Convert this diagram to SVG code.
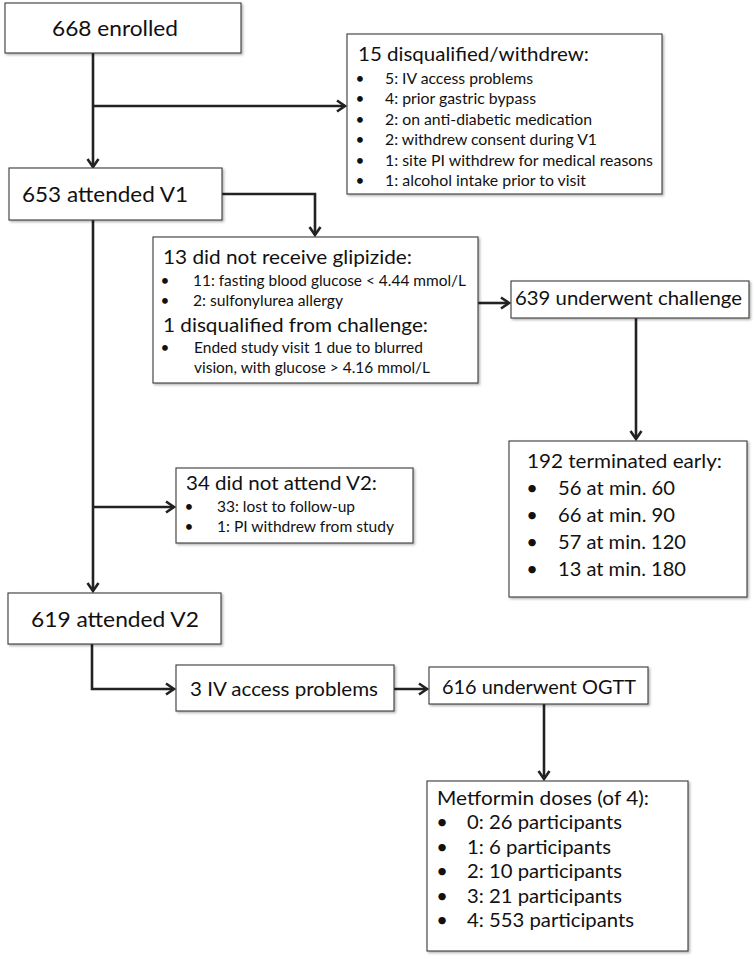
<svg xmlns="http://www.w3.org/2000/svg" width="756" height="959" viewBox="0 0 756 959">
<style>
  .box { fill: #ffffff; stroke: #3a3a3a; stroke-width: 1.1; filter: url(#sh); }
  .t { font-family: Lato, "Liberation Sans", sans-serif; fill: #111; }
  .big { font-size: 22px; }
  .ttl { font-size: 20px; }
  .sm { font-size: 15.3px; }
  .md { font-size: 20px; }
  .b { text-anchor: middle; }
  .c { fill: none; stroke: #222; stroke-width: 2.6; marker-end: url(#ah); }
</style>
<defs>
  <filter id="sh" x="-5%" y="-5%" width="110%" height="115%">
    <feDropShadow dx="1.5" dy="1.5" stdDeviation="1" flood-color="#000" flood-opacity="0.3"/>
  </filter>
  <marker id="ah" markerUnits="userSpaceOnUse" markerWidth="14" markerHeight="14" refX="10" refY="7" orient="auto">
    <path d="M2,1.5 L10,7 L2,12.5" fill="none" stroke="#222" stroke-width="2.6"/>
  </marker>
</defs>
<rect width="756" height="959" fill="#fff"/>

<g id="connectors">
  <line class="c" x1="93" y1="53" x2="93" y2="167"/>
  <line class="c" x1="93" y1="106" x2="345" y2="106"/>
  <polyline class="c" points="222,194 315,194 315,235"/>
  <line class="c" x1="93" y1="220" x2="93" y2="591"/>
  <line class="c" x1="93" y1="507" x2="174" y2="507"/>
  <line class="c" x1="478" y1="303" x2="509" y2="303"/>
  <line class="c" x1="636" y1="318" x2="636" y2="439"/>
  <polyline class="c" points="92,644 92,689 174,689"/>
  <line class="c" x1="394" y1="689" x2="427" y2="689"/>
  <line class="c" x1="544" y1="704" x2="544" y2="779"/>
</g>

<g id="n668">
  <rect class="box" x="5" y="3" width="236" height="50"/>
  <text class="t big" x="52" y="36" textLength="126" lengthAdjust="spacingAndGlyphs">668 enrolled</text>
</g>

<g id="n15">
  <rect class="box" x="347" y="34" width="315" height="160"/>
  <text class="t ttl" x="358" y="61" textLength="231" lengthAdjust="spacingAndGlyphs">15 disqualified/withdrew:</text>
  <text class="t sm b" x="360" y="84">•</text>
  <text class="t sm" x="385" y="84" textLength="148" lengthAdjust="spacingAndGlyphs">5: IV access problems</text>
  <text class="t sm b" x="360" y="104.4">•</text>
  <text class="t sm" x="385" y="104.4" textLength="151" lengthAdjust="spacingAndGlyphs">4: prior gastric bypass</text>
  <text class="t sm b" x="360" y="124.8">•</text>
  <text class="t sm" x="385" y="124.8" textLength="207" lengthAdjust="spacingAndGlyphs">2: on anti-diabetic medication</text>
  <text class="t sm b" x="360" y="145.2">•</text>
  <text class="t sm" x="385" y="145.2" textLength="212" lengthAdjust="spacingAndGlyphs">2: withdrew consent during V1</text>
  <text class="t sm b" x="360" y="165.6">•</text>
  <text class="t sm" x="385" y="165.6" textLength="268" lengthAdjust="spacingAndGlyphs">1: site PI withdrew for medical reasons</text>
  <text class="t sm b" x="360" y="186">•</text>
  <text class="t sm" x="385" y="186" textLength="201" lengthAdjust="spacingAndGlyphs">1: alcohol intake prior to visit</text>
</g>

<g id="n653">
  <rect class="box" x="9" y="168" width="213" height="52"/>
  <text class="t big" x="22" y="202" textLength="166" lengthAdjust="spacingAndGlyphs">653 attended V1</text>
</g>

<g id="n13">
  <rect class="box" x="153" y="237" width="325" height="146"/>
  <text class="t ttl" x="163" y="264" textLength="249" lengthAdjust="spacingAndGlyphs">13 did not receive glipizide:</text>
  <text class="t sm b" x="165" y="286">•</text>
  <text class="t sm" x="193" y="286" textLength="273" lengthAdjust="spacingAndGlyphs">11: fasting blood glucose &lt; 4.44 mmol/L</text>
  <text class="t sm b" x="165" y="306">•</text>
  <text class="t sm" x="193" y="306" textLength="150" lengthAdjust="spacingAndGlyphs">2: sulfonylurea allergy</text>
  <text class="t ttl" x="163" y="332" textLength="265" lengthAdjust="spacingAndGlyphs">1 disqualified from challenge:</text>
  <text class="t sm b" x="165" y="353">•</text>
  <text class="t sm" x="194" y="353" textLength="229" lengthAdjust="spacingAndGlyphs">Ended study visit 1 due to blurred</text>
  <text class="t sm" x="194" y="373" textLength="236" lengthAdjust="spacingAndGlyphs">vision, with glucose &gt; 4.16 mmol/L</text>
</g>

<g id="n639">
  <rect class="box" x="511" y="281" width="238" height="37"/>
  <text class="t ttl" x="515" y="305" textLength="227" lengthAdjust="spacingAndGlyphs">639 underwent challenge</text>
</g>

<g id="n192">
  <rect class="box" x="509" y="441" width="238" height="156"/>
  <text class="t ttl" x="527" y="468" textLength="195" lengthAdjust="spacingAndGlyphs">192 terminated early:</text>
  <text class="t md b" x="532" y="495">•</text>
  <text class="t md" x="558" y="495" textLength="117" lengthAdjust="spacingAndGlyphs">56 at min. 60</text>
  <text class="t md b" x="532" y="522">•</text>
  <text class="t md" x="558" y="522" textLength="117" lengthAdjust="spacingAndGlyphs">66 at min. 90</text>
  <text class="t md b" x="532" y="549">•</text>
  <text class="t md" x="558" y="549" textLength="128" lengthAdjust="spacingAndGlyphs">57 at min. 120</text>
  <text class="t md b" x="532" y="576">•</text>
  <text class="t md" x="558" y="576" textLength="128" lengthAdjust="spacingAndGlyphs">13 at min. 180</text>
</g>

<g id="n34">
  <rect class="box" x="176" y="468" width="237" height="75"/>
  <text class="t ttl" x="186" y="490" textLength="191" lengthAdjust="spacingAndGlyphs">34 did not attend V2:</text>
  <text class="t sm b" x="189" y="512">•</text>
  <text class="t sm" x="217" y="512" textLength="138" lengthAdjust="spacingAndGlyphs">33: lost to follow-up</text>
  <text class="t sm b" x="189" y="532">•</text>
  <text class="t sm" x="217" y="532" textLength="177" lengthAdjust="spacingAndGlyphs">1: PI withdrew from study</text>
</g>

<g id="n619">
  <rect class="box" x="8" y="593" width="213" height="51"/>
  <text class="t big" x="31" y="627" textLength="168" lengthAdjust="spacingAndGlyphs">619 attended V2</text>
</g>

<g id="n3">
  <rect class="box" x="176" y="665" width="218" height="46"/>
  <text class="t ttl" x="190" y="696" textLength="188" lengthAdjust="spacingAndGlyphs">3 IV access problems</text>
</g>

<g id="n616">
  <rect class="box" x="429" y="667" width="219" height="37"/>
  <text class="t ttl" x="442" y="694" textLength="194" lengthAdjust="spacingAndGlyphs">616 underwent OGTT</text>
</g>

<g id="nmet">
  <rect class="box" x="427" y="781" width="261" height="170"/>
  <text class="t ttl" x="437" y="805" textLength="212" lengthAdjust="spacingAndGlyphs">Metformin doses (of 4):</text>
  <text class="t md b" x="442" y="829">•</text>
  <text class="t md" x="467" y="829" textLength="155" lengthAdjust="spacingAndGlyphs">0: 26 participants</text>
  <text class="t md b" x="442" y="853.5">•</text>
  <text class="t md" x="467" y="853.5" textLength="144" lengthAdjust="spacingAndGlyphs">1: 6 participants</text>
  <text class="t md b" x="442" y="878">•</text>
  <text class="t md" x="467" y="878" textLength="155" lengthAdjust="spacingAndGlyphs">2: 10 participants</text>
  <text class="t md b" x="442" y="902.5">•</text>
  <text class="t md" x="467" y="902.5" textLength="155" lengthAdjust="spacingAndGlyphs">3: 21 participants</text>
  <text class="t md b" x="442" y="927">•</text>
  <text class="t md" x="467" y="927" textLength="167" lengthAdjust="spacingAndGlyphs">4: 553 participants</text>
</g>
</svg>
